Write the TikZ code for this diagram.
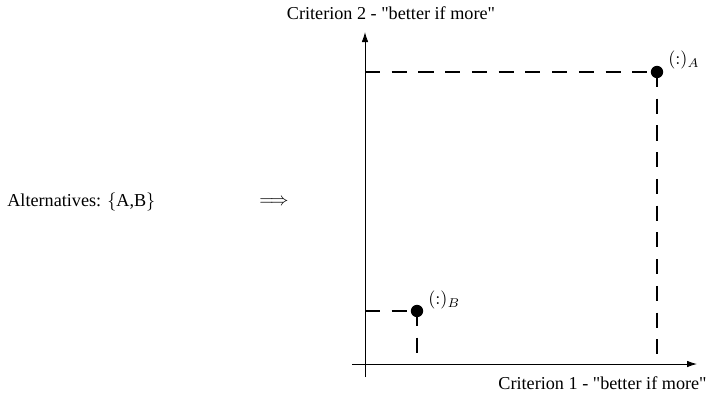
\documentclass[tikz,border=0pt]{standalone}
\usepackage{fontspec}
\setmainfont{Liberation Serif}
\usetikzlibrary{arrows.meta}
\begin{document}
\begin{tikzpicture}[x=0.55pt,y=-0.55pt,
  axis/.style={line width=0.5pt,-{Latex[length=5.5pt,width=3.6pt]}},
  guide/.style={line width=0.6pt,dash pattern=on 8.3pt off 6.4pt},
  pt/.style={circle,fill=black,inner sep=0pt,minimum size=6.8pt},
  lbl/.style={font=\fontsize{10}{12}\selectfont,inner sep=0pt}]
\useasboundingbox (0,0) rectangle (708,397);
% axes ends
\coordinate (ybot) at (365,377);
\coordinate (ytop) at (365,32);
\coordinate (xl) at (352,364);
\coordinate (xr) at (697,364);
\draw[axis] (ybot) -- (ytop);
\draw[axis] (xl) -- (xr);
% points
\node[pt] (A) at (657,72) {};
\node[pt] (B) at (417,311) {};
\coordinate (Ay) at (365,72);
\coordinate (Ax) at (657,364);
\coordinate (By) at (365,311);
\coordinate (Bx) at (417,364);
\draw[guide] (Ay) -- (A.center);
\draw[guide] (A.center) -- (Ax);
\draw[guide] (By) -- (B.center);
\draw[guide] (B.center) -- (Bx);
% labels
\node[lbl,anchor=west] (la) at (668,60) {$(:)_A$};
\node[lbl,anchor=west] (lb) at (428,300) {$(:)_B$};
\node[lbl] (c2) at (391,13) {Criterion 2 - \textquotedbl better if more\textquotedbl};
\node[lbl,anchor=east] (c1) at (707,383) {Criterion 1 - \textquotedbl better if more\textquotedbl};
\node[lbl,anchor=west] (alt) at (7,202) {Alternatives: $\{$A,B$\}$};
\node[lbl] (imp) at (274,202) {$\Longrightarrow$};
\end{tikzpicture}
\end{document}
